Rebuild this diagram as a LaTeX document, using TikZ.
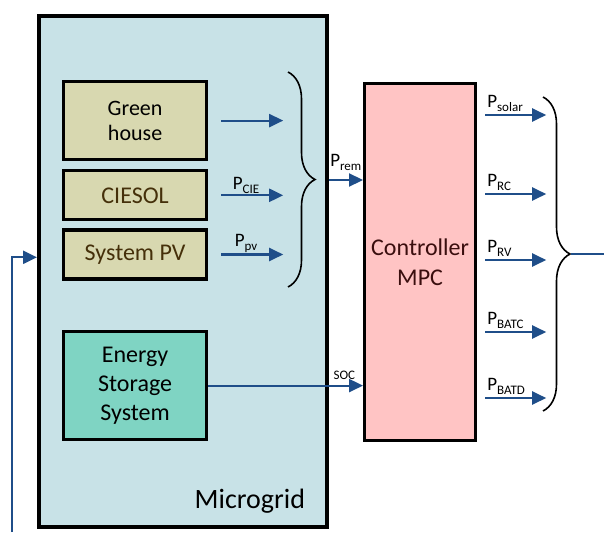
\documentclass[tikz,border=0pt]{standalone}
\usepackage{fontspec}
\setmainfont{Carlito}
\usetikzlibrary{arrows.meta,positioning,decorations.pathreplacing}

\definecolor{azulmr}{HTML}{C8E2E7}
\definecolor{bege}{HTML}{D8D8B0}
\definecolor{verdeag}{HTML}{7FD4C3}
\definecolor{rosa}{HTML}{FFC4C4}
\definecolor{azulseta}{HTML}{1F4E89}
\definecolor{marrom}{HTML}{45300A}
\definecolor{vinho}{HTML}{3A0E0E}

\newcommand{\potencia}[1]{P\raisebox{-4pt}{\fontsize{13}{13}\selectfont #1}}

\begin{document}
\begin{tikzpicture}[x=1pt, y=-1pt,
  caixa/.style={draw, line width=3.2pt, align=center, minimum width=143pt, inner sep=2pt, font=\fontsize{24}{29}\selectfont},
  carga/.style={caixa, fill=bege, minimum height=49pt},
  seta/.style={-{Triangle[length=14pt, width=13pt]}, line width=2.2pt, draw=azulseta},
  linha/.style={line width=2.2pt, draw=azulseta},
  chave/.style={decorate, decoration={brace, amplitude=27pt}, line width=1.6pt},
  rotulo/.style={font=\fontsize{19}{19}\selectfont, inner sep=1pt}
]
\useasboundingbox (0,0) rectangle (604,532);
\node[caixa, fill=azulmr, line width=3.6pt, minimum width=288pt, minimum height=511pt, anchor=north west] (microrrede) at (37,14) {};
\node[font=\fontsize{28}{28}\selectfont, anchor=base east] (nomemr) at ([xshift=-20pt, yshift=20pt]microrrede.south east) {Microgrid};
\node[carga, minimum height=78pt, font=\fontsize{22}{25}\selectfont, anchor=north west] (estufa) at (62,80) {Green\\house};
\node[carga, text=marrom, below=8pt of estufa] (ciesol) {CIESOL};
\node[carga, text=marrom, below=7pt of ciesol] (fv) {System PV};
\node[caixa, fill=verdeag, minimum height=108pt, anchor=north west] (armazenamento) at (62,330) {Energy\\Storage\\System};
\node[caixa, fill=rosa, text=vinho, minimum width=111pt, minimum height=357pt, font=\fontsize{24}{30}\selectfont, anchor=north west] (mpc) at (363,82) {Controller\\MPC};
% cargas -> chave
\draw[seta] ([xshift=13pt]estufa.east) -- ++(62,0);
\draw[seta] ([xshift=13pt]ciesol.east) -- ++(62,0) node[rotulo, pos=0.4, above] {\potencia{CIE}};
\draw[seta] ([xshift=13pt]fv.east) -- ++(62,0) node[rotulo, pos=0.4, above] {\potencia{pv}};
\draw[chave] (288,72) -- (288,287);
\coordinate (pontaE) at (315,180);
\draw[seta] (microrrede.east |- pontaE) -- (mpc.west |- pontaE) node[rotulo, midway, above=7pt] {\potencia{rem}};
\draw[seta] (armazenamento.east) -- (mpc.west |- armazenamento.east) node[pos=0.88, above=4pt, inner sep=1pt, font=\fontsize{13}{13}\selectfont] {SOC};
% saidas do controlador
\draw[seta] ([xshift=8pt, yshift=-33pt]mpc.north east) -- ++(61,0) node[rotulo, pos=0, anchor=south west, yshift=1pt] {\potencia{solar}};
\draw[seta] ([xshift=8pt, yshift=-112pt]mpc.north east) -- ++(61,0) node[rotulo, pos=0, anchor=south west, yshift=1pt] {\potencia{RC}};
\draw[seta] ([xshift=8pt, yshift=-178pt]mpc.north east) -- ++(61,0) node[rotulo, pos=0, anchor=south west, yshift=1pt] {\potencia{RV}};
\draw[seta] ([xshift=8pt, yshift=-250pt]mpc.north east) -- ++(61,0) node[rotulo, pos=0, anchor=south west, yshift=1pt] {\potencia{BATC}};
\draw[seta] ([xshift=8pt, yshift=-316pt]mpc.north east) -- ++(61,0) node[rotulo, pos=0, anchor=south west, yshift=1pt] {\potencia{BATD}};
\draw[chave] (543,97) -- (543,411);
\coordinate (pontaD) at (571,254);
\coordinate (fimD) at (604,254);
\draw[linha] (pontaD) -- (fimD);
% realimentacao
\coordinate (retorno) at (12,532);
\draw[seta] (retorno) |- ([yshift=14pt]microrrede.west);
\end{tikzpicture}
\end{document}
